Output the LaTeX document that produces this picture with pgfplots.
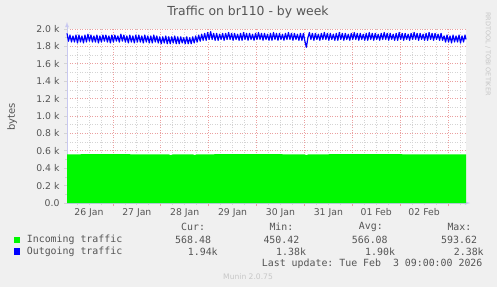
\documentclass[border=0pt]{standalone}
\usepackage{pgfplots}
\pgfplotsset{compat=1.18}
\usepackage{fontspec}
\setmainfont{DejaVu Sans}
\setmonofont{DejaVu Sans Mono}
\definecolor{bgcol}{HTML}{F0F0F0}
\definecolor{txt}{HTML}{555555}
\definecolor{inc}{HTML}{00F800}
\definecolor{outc}{HTML}{0000FF}
\definecolor{mgrid}{HTML}{EBA0A0}
\definecolor{ngrid}{HTML}{D4D4D4}
\definecolor{axcol}{HTML}{C8C8F0}
\begin{document}
\begin{tikzpicture}[x=1pt,y=1pt]
\fill[bgcol] (0,0) rectangle (497,287);
\useasboundingbox (0,0) rectangle (497,287);
\begin{axis}[
  at={(67pt,84pt)}, anchor=south west,
  scale only axis, width=399pt, height=174pt,
  xmin=1, xmax=201, ymin=0, ymax=2.0,
  clip=false,
  axis background/.style={fill=white},
  axis lines=left,
  axis line style={draw=axcol, line width=0.8pt},
  every outer x axis line/.append style={-latex, shorten >=-4pt},
  every outer y axis line/.append style={-latex, shorten >=-7pt},
  tick align=outside,
  xtick={24,48,72,96,120,144,168,192},
  xticklabels={},
  minor xtick={6,12,18,30,36,42,54,60,66,78,84,90,102,108,114,126,132,138,150,156,162,174,180,186,198},
  extra x ticks={12,36,60,84,108,132,156,180},
  extra x tick labels={26 Jan,27 Jan,28 Jan,29 Jan,30 Jan,31 Jan,01 Feb,02 Feb},
  extra x tick style={grid=none, major tick length=0pt},
  ytick={0,0.2,0.4,0.6,0.8,1.0,1.2,1.4,1.6,1.8,2.0},
  yticklabels={0.0,0.2 k,0.4 k,0.6 k,0.8 k,1.0 k,1.2 k,1.4 k,1.6 k,1.8 k,2.0 k},
  minor ytick={0.1,0.3,0.5,0.7,0.9,1.1,1.3,1.5,1.7,1.9},
  grid=both,
  major grid style={draw=mgrid, line width=0.7pt, dash pattern=on 1pt off 1.5pt},
  minor grid style={draw=ngrid, line width=0.7pt, dash pattern=on 1pt off 1.5pt},
  x tick style={draw=mgrid, line width=0.7pt},
  y tick style={draw=ngrid, line width=0.7pt},
  minor x tick style={draw=ngrid},
  major tick length=3pt, minor tick length=2pt,
  tick label style={font=\fontsize{9.3}{11}\selectfont, text=txt},
  xticklabel style={yshift=-2pt},
  yticklabel style={xshift=-1pt},
]
\addplot[draw=none, fill=inc] coordinates {
(1,0.560)(20,0.561)(40,0.560)(52,0.560)(53,0.548)(54,0.560)(64,0.560)(65,0.550)(66,0.560)
(90,0.561)(120,0.560)(121,0.548)(122,0.560)(150,0.561)(180,0.560)(201,0.560)} \closedcycle;
\addplot[outc, line width=1.2pt, line join=round] coordinates {
(1,1.95)(1.75,1.86)(2.5,1.93)(3.25,1.85)
(4,1.92)(4.75,1.85)(5.5,1.93)(6.25,1.84)
(7,1.93)(7.75,1.85)(8.5,1.92)(9.25,1.84)
(10,1.93)(10.75,1.85)(11.5,1.94)(12.25,1.86)
(13,1.93)(13.75,1.85)(14.5,1.92)(15.25,1.85)
(16,1.93)(16.75,1.84)(17.5,1.92)(18.25,1.85)
(19,1.93)(19.75,1.86)(20.5,1.93)(21.25,1.85)
(22,1.92)(22.75,1.84)(23.5,1.93)(24.25,1.85)
(25,1.93)(25.75,1.86)(26.5,1.92)(27.25,1.85)
(28,1.94)(28.75,1.86)(29.5,1.93)(30.25,1.85)
(31,1.92)(31.75,1.84)(32.5,1.93)(33.25,1.85)
(34,1.92)(34.75,1.84)(35.5,1.93)(36.25,1.85)
(37,1.93)(37.75,1.85)(38.5,1.92)(39.25,1.84)
(40,1.93)(40.75,1.85)(41.5,1.92)(42.25,1.84)
(43,1.92)(43.75,1.84)(44.5,1.93)(45.25,1.85)
(46,1.92)(46.75,1.84)(47.5,1.91)(48.25,1.83)
(49,1.91)(49.75,1.84)(50.5,1.92)(51.25,1.83)
(52,1.91)(52.75,1.83)(53.5,1.91)(54.25,1.84)
(55,1.92)(55.75,1.83)(56.5,1.91)(57.25,1.83)
(58,1.91)(58.75,1.84)(59.5,1.90)(60.25,1.83)
(61,1.91)(61.75,1.83)(62.5,1.90)(63.25,1.83)
(64,1.91)(64.75,1.84)(65.5,1.92)(66.25,1.85)
(67,1.93)(67.75,1.86)(68.5,1.94)(69.25,1.87)
(70,1.95)(70.75,1.87)(71.5,1.96)(72.25,1.88)
(73,1.97)(73.75,1.88)(74.5,1.95)(75.25,1.87)
(76,1.95)(76.75,1.87)(77.5,1.94)(78.25,1.88)
(79,1.95)(79.75,1.87)(80.5,1.95)(81.25,1.88)
(82,1.96)(82.75,1.88)(83.5,1.95)(84.25,1.87)
(85,1.95)(85.75,1.88)(86.5,1.94)(87.25,1.87)
(88,1.95)(88.75,1.87)(89.5,1.96)(90.25,1.88)
(91,1.95)(91.75,1.87)(92.5,1.95)(93.25,1.88)
(94,1.94)(94.75,1.87)(95.5,1.95)(96.25,1.88)
(97,1.96)(97.75,1.88)(98.5,1.95)(99.25,1.87)
(100,1.95)(100.75,1.88)(101.5,1.94)(102.25,1.87)
(103,1.95)(103.75,1.87)(104.5,1.96)(105.25,1.88)
(106,1.95)(106.75,1.87)(107.5,1.95)(108.25,1.88)
(109,1.94)(109.75,1.87)(110.5,1.95)(111.25,1.88)
(112,1.96)(112.75,1.88)(113.5,1.95)(114.25,1.87)
(115,1.95)(115.75,1.88)(116.5,1.94)(117.25,1.87)
(118,1.95)(118.75,1.87)(119.5,1.95)(120.25,1.86)
(121,1.79)(121.75,1.90)(122.5,1.96)(123.25,1.88)
(124,1.95)(124.75,1.87)(125.5,1.95)(126.25,1.88)
(127,1.94)(127.75,1.87)(128.5,1.95)(129.25,1.88)
(130,1.96)(130.75,1.88)(131.5,1.95)(132.25,1.87)
(133,1.95)(133.75,1.88)(134.5,1.94)(135.25,1.87)
(136,1.95)(136.75,1.87)(137.5,1.96)(138.25,1.88)
(139,1.95)(139.75,1.87)(140.5,1.95)(141.25,1.88)
(142,1.94)(142.75,1.87)(143.5,1.95)(144.25,1.88)
(145,1.96)(145.75,1.88)(146.5,1.95)(147.25,1.87)
(148,1.95)(148.75,1.88)(149.5,1.94)(150.25,1.87)
(151,1.95)(151.75,1.87)(152.5,1.96)(153.25,1.88)
(154,1.95)(154.75,1.87)(155.5,1.95)(156.25,1.88)
(157,1.94)(157.75,1.87)(158.5,1.95)(159.25,1.88)
(160,1.96)(160.75,1.88)(161.5,1.95)(162.25,1.87)
(163,1.95)(163.75,1.88)(164.5,1.94)(165.25,1.87)
(166,1.95)(166.75,1.87)(167.5,1.96)(168.25,1.88)
(169,1.95)(169.75,1.87)(170.5,1.95)(171.25,1.88)
(172,1.94)(172.75,1.87)(173.5,1.95)(174.25,1.88)
(175,1.96)(175.75,1.88)(176.5,1.95)(177.25,1.87)
(178,1.95)(178.75,1.88)(179.5,1.94)(180.25,1.87)
(181,1.95)(181.75,1.87)(182.5,1.96)(183.25,1.88)
(184,1.95)(184.75,1.87)(185.5,1.95)(186.25,1.88)
(187,1.94)(187.75,1.87)(188.5,1.95)(189.25,1.87)
(190,1.92)(190.75,1.85)(191.5,1.93)(192.25,1.85)
(193,1.92)(193.75,1.84)(194.5,1.93)(195.25,1.85)
(196,1.92)(196.75,1.85)(197.5,1.93)(198.25,1.84)
(199,1.92)(199.75,1.85)(200.5,1.93)(201,1.88)};
\end{axis}
% title and side texts
\node[text=txt, font=\fontsize{12.4}{14}\selectfont] at (248,275) {Traffic on br110 - by week};
\node[text=txt, rotate=90, font=\fontsize{10}{12}\selectfont] at (12,170) {bytes};
\node[text=black!22, rotate=-90, font=\fontsize{6.5}{8}\selectfont] at (488,233) {RRDTOOL / TOBI OETIKER};
% legend
\begin{scope}[every node/.style={anchor=west, inner sep=0pt, text=txt, font=\fontsize{9.9}{12}\ttfamily}]
\node at (181,60) {Cur:};
\node at (269.3,60) {Min:};
\node at (358.7,60) {Avg:};
\node at (447.3,60) {Max:};
\node at (13.5,47) {\textcolor{inc}{\rule{6.5pt}{6.5pt}}};
\node at (26.7,47) {Incoming traffic};
\node at (175,47) {568.48};
\node at (263.3,47) {450.42};
\node at (351.7,47) {566.08};
\node at (441,47) {593.62};
\node at (13.5,35.3) {\textcolor{outc}{\rule{6.5pt}{6.5pt}}};
\node at (26.7,35.3) {Outgoing traffic};
\node at (187.7,35.3) {1.94k};
\node at (276,35.3) {1.38k};
\node at (365,35.3) {1.90k};
\node at (453.7,35.3) {2.38k};
\node at (261.7,23.7) {Last update:~Tue~Feb~~3~09:00:00~2026};
\end{scope}
\node[text=black!22, anchor=west, inner sep=0pt, font=\fontsize{7.6}{9}\selectfont] at (223,10.3) {Munin 2.0.75};
\end{tikzpicture}
\end{document}
